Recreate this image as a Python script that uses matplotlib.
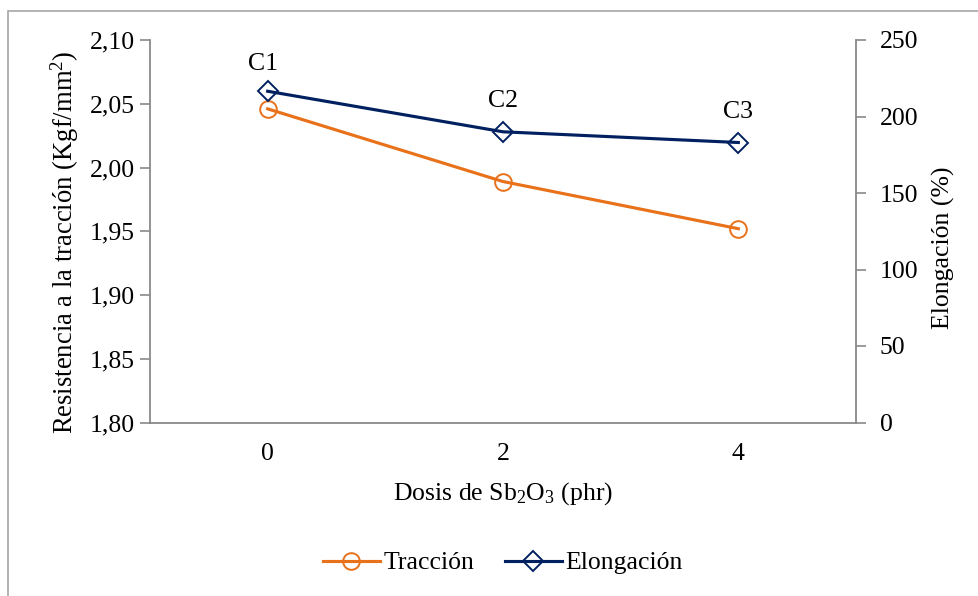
import matplotlib
matplotlib.use("Agg")
import matplotlib.pyplot as plt
from matplotlib.lines import Line2D
from matplotlib.patches import Rectangle

plt.rcParams['font.family'] = ['Liberation Serif', 'DejaVu Serif']
plt.rcParams['mathtext.fontset'] = 'custom'
plt.rcParams['mathtext.rm'] = 'Liberation Serif'
plt.rcParams['mathtext.it'] = 'Liberation Serif:italic'

# Data
dosis = ['0', '2', '4']
compuestos = ['C1', 'C2', 'C3']
traccion = [2.046, 1.989, 1.952]      # Kgf/mm2
elongacion = [216.5, 190.0, 183.0]    # %

naranja = '#E8711A'
azul = '#002060'
gris = '#898989'
fs = 18.5

fig = plt.figure(figsize=(9.79, 5.96), dpi=100)
# outer chart frame
fig.patches.append(Rectangle((8 / 979, -0.05), 1.1, 1 - 11 / 596 + 0.05,
                             transform=fig.transFigure, fill=False,
                             edgecolor='#A6A6A6', linewidth=1.2))

ax = fig.add_axes([150 / 979, 1 - 422.5 / 596, 706 / 979, 382.5 / 596])
ax2 = ax.twinx()

x = list(range(len(dosis)))
ax.plot(x, traccion, color=naranja, linewidth=2.25, marker='o', markersize=12,
        markerfacecolor='none', markeredgecolor=naranja, markeredgewidth=1.4,
        zorder=3)
ax2.plot(x, elongacion, color=azul, linewidth=2.25, marker='D', markersize=10,
         markerfacecolor='none', markeredgecolor=azul, markeredgewidth=1.4,
         zorder=3)

for xi, yi, lab in zip(x, elongacion, compuestos):
    dx, dy = (-3, 19.5) if xi == 0 else (0, 22)
    ax2.annotate(lab, (xi, yi), xytext=(dx, dy),
                 textcoords='offset points', ha='center', va='center',
                 fontsize=fs)

ax.set_xlim(-0.5, 2.5)
ax.set_ylim(1.80, 2.10)
ax2.set_ylim(0, 250)
ax.set_xticks(x)
ax.set_xticklabels(dosis)
ax.set_yticks([1.80, 1.85, 1.90, 1.95, 2.00, 2.05, 2.10])
ax.set_yticklabels([f'{v:.2f}'.replace('.', ',') for v in ax.get_yticks()])
ax2.set_yticks([0, 50, 100, 150, 200, 250])

for a in (ax, ax2):
    for s in a.spines.values():
        s.set_visible(False)
    a.tick_params(labelsize=fs, colors=gris, labelcolor='black', width=1.2,
                  length=7)
ax.spines['left'].set_visible(True)
ax.spines['bottom'].set_visible(True)
ax2.spines['right'].set_visible(True)
for s in (ax.spines['left'], ax.spines['bottom'], ax2.spines['right']):
    s.set_color(gris)
    s.set_linewidth(1.3)
ax.tick_params(axis='x', length=0, pad=15)
ax.tick_params(axis='y', pad=4)
ax2.tick_params(axis='y', pad=10)

ax.set_ylabel('Resistencia a la tracción (Kgf/mm$^2$)', fontsize=19.2, labelpad=6)
ax2.set_ylabel('Elongación (%)', fontsize=fs, labelpad=10)
ax.set_xlabel('Dosis de Sb$_2$O$_3$ (phr)', fontsize=fs, labelpad=11)
ax.yaxis.label.set_y(0.472)
ax2.yaxis.label.set_y(0.456)

handles = [
    Line2D([], [], color=naranja, linewidth=2.25, marker='o', markersize=12,
           markerfacecolor='none', markeredgewidth=1.4),
    Line2D([], [], color=azul, linewidth=2.25, marker='D', markersize=10,
           markerfacecolor='none', markeredgewidth=1.4),
]
fig.legend(handles, ['Tracción', 'Elongación'], loc='center',
           bbox_to_anchor=(503 / 979, 1 - 563 / 596), ncol=2, frameon=False,
           fontsize=fs, handlelength=2.2, handletextpad=0.15, columnspacing=1.2)

fig.savefig('out.png', dpi=100)
